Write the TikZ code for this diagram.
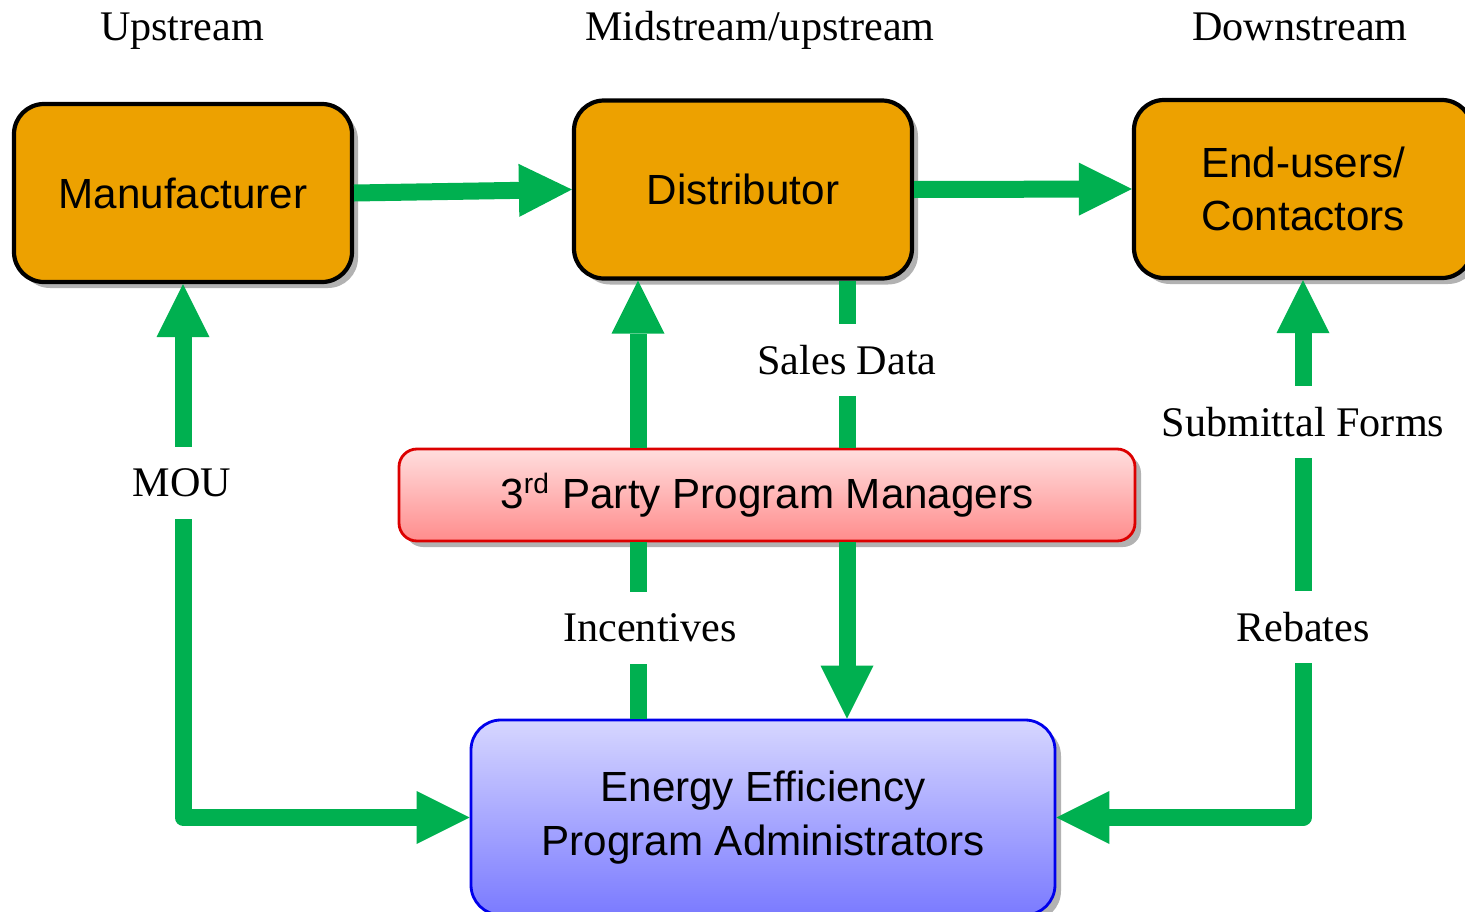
\documentclass[tikz,border=0pt]{standalone}
\usepackage{fontspec}
\setmainfont{Liberation Serif}
\newfontfamily\boxfont{Liberation Sans}
\usepackage{tikz}
\usetikzlibrary{arrows.meta,shadows}
\usepackage{xcolor}
\definecolor{boxorange}{RGB}{237,161,0}
\definecolor{flowgreen}{RGB}{0,176,80}
\definecolor{tpred}{RGB}{220,0,0}
\definecolor{eeblue}{RGB}{0,0,235}

\tikzset{
  boxshadow/.style={drop shadow={shadow xshift=0.06cm, shadow yshift=-0.06cm, opacity=0.3, fill=black}},
  stage/.style={draw=black, line width=1.2pt, fill=boxorange, rounded corners=0.3cm,
    minimum width=3.38cm, minimum height=1.78cm, align=center,
    font=\boxfont\fontsize{12}{14.5}\selectfont, boxshadow},
  tip/.tip={Triangle[length=0.53cm, width=0.53cm, line width=0pt]},
  flowline/.style={draw=flowgreen, line width=0.17cm, line join=round},
  flow/.style={flowline, -tip},
  flowboth/.style={flowline, tip-tip},
  lbl/.style={fill=white, inner sep=0pt, minimum height=0.72cm, font=\fontsize{12}{14.5}\selectfont},
  head/.style={anchor=base, font=\fontsize{12}{14.5}\selectfont}
}

\begin{document}
\begin{tikzpicture}
\useasboundingbox (0,0) rectangle (14.65,9.11);
\clip (0,0) rectangle (14.65,9.11);

% stages of the chain
\node [head] (up) at (1.82,8.71) {Upstream};
\node [head] (mid) at (7.60,8.71) {Midstream/upstream};
\node [head] (down) at (13.00,8.71) {Downstream};

\node [stage] (man) at (1.83,7.18) {Manufacturer};
\node [stage] (dist) at (7.43,7.215) {Distributor};
\node [stage, font=\boxfont\fontsize{12}{15}\selectfont] (eu) at (13.03,7.22) {End-users/\\Contactors};

\node [draw=tpred, line width=0.8pt, rounded corners=0.18cm, top color=red!13, bottom color=red!45,
  minimum width=7.36cm, minimum height=0.92cm, font=\boxfont\fontsize{12}{14.5}\selectfont, boxshadow]
  (tp) at (7.67,4.16) {3\textsuperscript{rd} Party Program Managers};
\node [draw=eeblue, line width=0.8pt, rounded corners=0.3cm, top color=blue!16, bottom color=blue!52,
  minimum width=5.84cm, minimum height=1.95cm, align=center,
  font=\boxfont\fontsize{12}{15.5}\selectfont, boxshadow]
  (ee) at (7.63,0.935) {Energy Efficiency\\Program Administrators};

\coordinate (incx) at (6.38,0);
\coordinate (salesx) at (8.47,0);

% flows
\draw [flow] (man.east) -- (dist.west);
\draw [flow] (dist.east) -- (eu.west);
\draw [flowboth] (ee.west) -| (man.south);
\draw [flowboth] (ee.east) -| (eu.south);
\draw [flowline] (ee.north -| incx) -- (tp.south -| incx);
\draw [flow] (tp.north -| incx) -- (dist.south -| incx);
\draw [flowline] (dist.south -| salesx) -- (tp.north -| salesx);
\draw [flow] (tp.south -| salesx) -- (ee.north -| salesx);

\node [lbl] (mou) at (1.82,4.28) {MOU};
\node [lbl] (sales) at (8.47,5.51) {Sales Data};
\node [lbl] (forms) at (13.03,4.89) {Submittal Forms};
\node [lbl] (rebates) at (13.03,2.84) {Rebates};
\node [lbl] (inc) at (6.50,2.83) {Incentives};
\end{tikzpicture}
\end{document}
